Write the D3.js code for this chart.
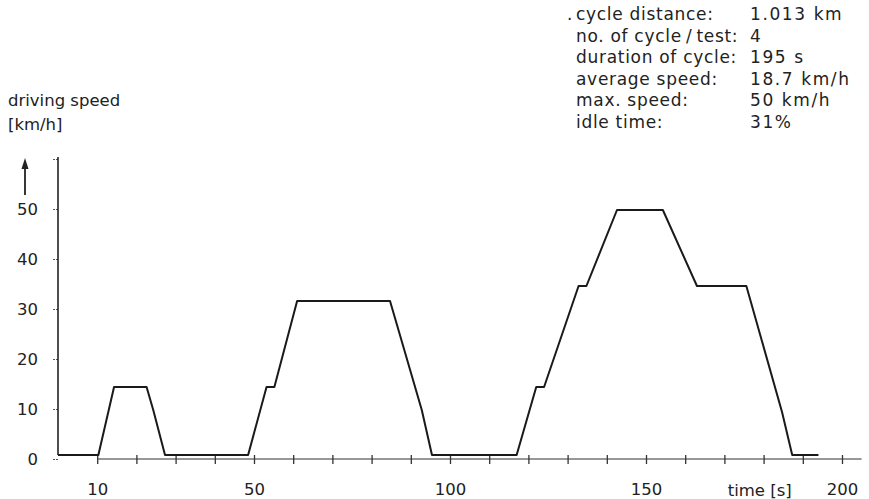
<!doctype html>
<html>
<head>
  <script src="https://d3js.org/d3.v7.min.js"></script>
</head>
<style>
  body {
    margin: 0;
    background: #fff;
  }

  svg text {
    fill: #222;
    font-family: "DejaVu Sans", sans-serif;
    font-size: 16.5px;
  }

  .info text {
    font-size: 17px;
    letter-spacing: 0.7px;
  }

  .info text.val {
    letter-spacing: 1.6px;
  }
</style>
<body>
<svg></svg>

<script>
  // ECE-15 urban cycle
  const times  = [0, 10.3, 14.3, 22.6, 24.3, 27.3, 48.5, 53.2, 55.2, 61, 84.7, 92.8, 95.4, 117, 122, 124,
                  132.8, 134.8, 142.6, 154.3, 163, 175.6, 184.7, 187.3, 194];
  const speeds = [0.8, 0.8, 14.4, 14.4, 9.8, 0.8, 0.8, 14.4, 14.4, 31.6, 31.6, 9.8, 0.8, 0.8, 14.4, 14.4,
                  34.6, 34.6, 49.8, 49.8, 34.6, 34.6, 9.4, 0.8, 0.8];
  const xTicks = [10, 20, 30, 40, 50, 60, 70, 80, 90, 100, 110, 120, 130, 140, 150, 160, 170, 180, 190, 200];
  const xLabels = [10, 50, 100, 150, 200];
  const yTicks = [0, 10, 20, 30, 40, 50, 60];
  const yLabels = [0, 10, 20, 30, 40, 50];
  const infoLabels = ["cycle distance:", "no. of cycle\u2009/\u2009test:", "duration of cycle:", "average speed:", "max. speed:", "idle time:"];
  const infoValues = ["1.013 km", "4", "195 s", "18.7 km/h", "50 km/h", "31%"];

  const width = 869, height = 499;
  const svg = d3.select("svg")
    .attr("width", width)
    .attr("height", height);

  const x = d3.scaleLinear().domain([0, 200]).range([58, 842]);
  const y = d3.scaleLinear().domain([0, 50]).range([459, 209]);

  // y axis
  const yAxis = d3.axisLeft(y)
    .tickValues(yTicks)
    .tickSize(5)
    .tickPadding(15)
    .tickFormat(d => yLabels.includes(d) ? d : "");
  const gy = svg.append("g")
    .attr("transform", `translate(${x(0)}, 0)`)
    .call(yAxis);
  gy.select(".domain").remove();
  gy.selectAll(".tick line").attr("stroke", "#555").attr("stroke-dasharray", "2,1");
  gy.selectAll(".tick text").attr("font-size", null).attr("font-family", null);
  svg.append("line")
    .attr("x1", x(0)).attr("x2", x(0))
    .attr("y1", y(0.8)).attr("y2", y(60.4))
    .attr("stroke", "#222").attr("stroke-width", 1.6);

  // x axis
  const xAxis = d3.axisBottom(x)
    .tickValues(xTicks)
    .tickSize(5)
    .tickPadding(19)
    .tickFormat(d => xLabels.includes(d) ? d : "");
  const gx = svg.append("g")
    .attr("transform", `translate(0, ${y(0)})`)
    .call(xAxis);
  gx.select(".domain").remove();
  gx.selectAll(".tick line").attr("y1", -4).attr("stroke", "#333").attr("stroke-width", 1.3);
  gx.selectAll(".tick text").attr("font-size", null).attr("font-family", null);
  svg.append("line")
    .attr("x1", x(10)).attr("x2", x(205))
    .attr("y1", y(0)).attr("y2", y(0))
    .attr("stroke", "#333").attr("stroke-width", 1.2);

  svg.append("text")
    .attr("x", x(179))
    .attr("y", 496)
    .attr("text-anchor", "middle")
    .text("time [s]");

  // speed trace
  const line = d3.line()
    .x((d, i) => x(times[i]))
    .y(d => y(d));
  svg.append("path")
    .datum(speeds)
    .attr("d", line)
    .attr("fill", "none")
    .attr("stroke", "#1a1a1a")
    .attr("stroke-width", 2)
    .attr("stroke-linejoin", "round");

  // axis title and arrow
  svg.append("text").attr("x", 8).attr("y", 106).text("driving speed");
  svg.append("text").attr("x", 8).attr("y", 130).text("[km/h]");
  svg.append("line")
    .attr("x1", 25).attr("x2", 25).attr("y1", 195).attr("y2", 166)
    .attr("stroke", "#222").attr("stroke-width", 1.8);
  svg.append("path")
    .attr("d", "M25,158 L21.5,169 L28.5,169 Z")
    .attr("fill", "#222");

  // cycle data block
  const info = svg.append("g").attr("class", "info");
  info.append("text").attr("x", 573).attr("y", 20).attr("text-anchor", "end").text(".");
  infoLabels.forEach((t, i) => {
    info.append("text").attr("x", 576).attr("y", 20 + i * 21.6).text(t);
    info.append("text").attr("class", "val").attr("x", 750).attr("y", 20 + i * 21.6).text(infoValues[i]);
  });
</script>
</body>
</html>
